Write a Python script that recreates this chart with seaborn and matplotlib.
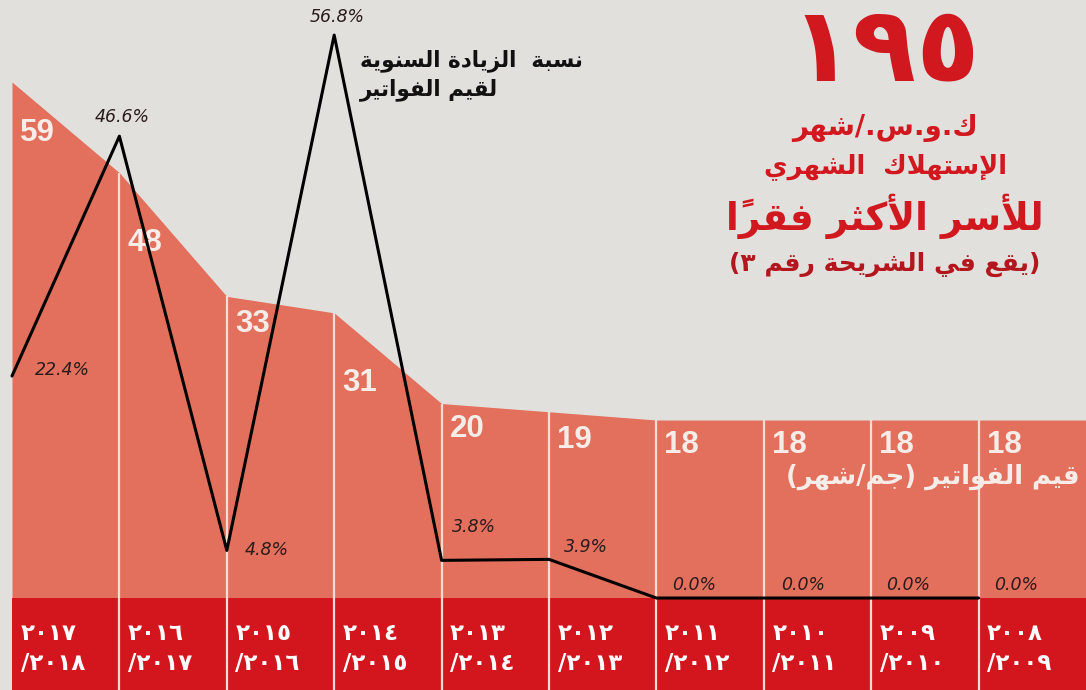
import numpy as np
import pandas as pd
import matplotlib
matplotlib.use("Agg")
import matplotlib.pyplot as plt
import matplotlib.transforms as mtransforms
import seaborn as sns

# ------------------------------------------------------------------ data
period_start = ["٢٠١٧", "٢٠١٦", "٢٠١٥", "٢٠١٤", "٢٠١٣", "٢٠١٢", "٢٠١١", "٢٠١٠", "٢٠٠٩", "٢٠٠٨"]
period_end = ["/٢٠١٨", "/٢٠١٧", "/٢٠١٦", "/٢٠١٥", "/٢٠١٤", "/٢٠١٣", "/٢٠١٢", "/٢٠١١", "/٢٠١٠", "/٢٠٠٩"]
bill_values = [59, 48, 33, 31, 20, 19, 18, 18, 18, 18]          # قيم الفواتير (جم/شهر)
annual_increase = [22.4, 46.6, 4.8, 56.8, 3.8, 3.9, 0.0, 0.0, 0.0, 0.0]  # %
consumption = "١٩٥"
title_lines = ["ك.و.س./شهر", "الإستهلاك  الشهري", "للأسر الأكثر فقرًا", "(يقع في الشريحة رقم ٣)"]
line_caption = ["نسبة  الزيادة السنوية", "لقيم الفواتير"]
area_caption = "قيم الفواتير (جم/شهر)"

# ------------------------------------------------------------------ minimal Arabic shaping (matplotlib has no shaper)
DUAL = {'ب': 0xFE8F, 'ت': 0xFE95, 'ث': 0xFE99, 'ج': 0xFE9D, 'ح': 0xFEA1, 'خ': 0xFEA5,
        'س': 0xFEB1, 'ش': 0xFEB5, 'ص': 0xFEB9, 'ض': 0xFEBD, 'ط': 0xFEC1, 'ظ': 0xFEC5,
        'ع': 0xFEC9, 'غ': 0xFECD, 'ف': 0xFED1, 'ق': 0xFED5, 'ك': 0xFED9, 'ل': 0xFEDD,
        'م': 0xFEE1, 'ن': 0xFEE5, 'ه': 0xFEE9, 'ي': 0xFEF1, 'ئ': 0xFE89}
RIGHT = {'ا': 0xFE8D, 'أ': 0xFE83, 'إ': 0xFE87, 'آ': 0xFE81, 'ة': 0xFE93, 'د': 0xFEA9,
         'ذ': 0xFEAB, 'ر': 0xFEAD, 'ز': 0xFEAF, 'و': 0xFEED, 'ى': 0xFEEF, 'ؤ': 0xFE85}
LAMALEF = {'ا': 0xFEFB, 'أ': 0xFEF7, 'إ': 0xFEF9, 'آ': 0xFEF5}
MIRROR = {'(': ')', ')': '(', '[': ']', ']': '['}


def _is_mark(c):
    return '\u064B' <= c <= '\u0652' or c == '\u0670'


def _is_ltr(c):
    return c.isdigit() or ('a' <= c.lower() <= 'z')


def ar(text):
    chars = list(text)
    n = len(chars)
    shaped = []
    i = 0
    while i < n:
        c = chars[i]
        if _is_mark(c):
            shaped.append(c)
            i += 1
            continue
        j = i - 1
        while j >= 0 and _is_mark(chars[j]):
            j -= 1
        prev = chars[j] if j >= 0 else None
        k = i + 1
        while k < n and _is_mark(chars[k]):
            k += 1
        nxt = chars[k] if k < n else None
        joins = c in DUAL or c in RIGHT
        link_prev = joins and prev in DUAL
        if c == 'ل' and nxt in LAMALEF:
            shaped.append(chr(LAMALEF[nxt] + (1 if link_prev else 0)))
            i = k + 1
            continue
        if c in DUAL:
            link_next = nxt is not None and (nxt in DUAL or nxt in RIGHT)
            off = 3 if (link_prev and link_next) else 1 if link_prev else 2 if link_next else 0
            shaped.append(chr(DUAL[c] + off))
        elif c in RIGHT:
            shaped.append(chr(RIGHT[c] + (1 if link_prev else 0)))
        else:
            shaped.append(c)
        i += 1
    clusters = []
    for c in shaped:
        if _is_mark(c) and clusters:
            clusters[-1] += c
        else:
            clusters.append(c)
    runs = []
    for cl in clusters:
        ltr = _is_ltr(cl[0])
        if runs and ltr and runs[-1][0]:
            runs[-1][1].append(cl)
        else:
            runs.append([ltr, [cl]])
    out = []
    for ltr, cls in reversed(runs):
        if ltr:
            out.extend(cls)
        else:
            out.extend(MIRROR.get(x, x)[::-1] for x in reversed(cls))
    return "".join(out)


# ------------------------------------------------------------------ style
BG = "#e2e0dd"
SALMON = "#e3705d"
BAND = "#d3151e"
SEP = "#f6dcd4"
TITLE_RED = "#d2181f"

sns.set_theme(style="white")
plt.rcParams["font.family"] = ["DejaVu Sans"]

W, H = 1086, 690
fig = plt.figure(figsize=(W / 100, H / 100), dpi=100, facecolor=BG)
ax = fig.add_axes([0, 0, 1, 1], facecolor=BG)
ax2 = ax.twinx()
ax2.set_facecolor("none")

n = len(bill_values)
idx = np.arange(n)
col_px = 107.4
left_px = 12
ax.set_xlim(-left_px / col_px, n)
ax2.set_xlim(-left_px / col_px, n)

area_lim = (-14.75, 68.95)
pct_lim = (-9.28, 60.34)
ax.set_ylim(*area_lim)
ax2.set_ylim(*pct_lim)
band_top_px = 598
band_top = area_lim[1] - band_top_px / H * (area_lim[1] - area_lim[0])

# area (values held flat across the last column)
df_area = pd.DataFrame({"i": np.arange(n + 1), "v": bill_values + [bill_values[-1]]})
ax.fill_between(df_area["i"], band_top, df_area["v"], color=SALMON, lw=0, zorder=1)
# red band with year labels
ax.fill_between([0, n], area_lim[0], band_top, color=BAND, lw=0, zorder=1)
ax.vlines(idx[1:], area_lim[0], np.array(bill_values[1:]), color=SEP, lw=1.6, zorder=2)

# percent line
df_line = pd.DataFrame({"i": idx, "pct": annual_increase})
sns.lineplot(data=df_line, x="i", y="pct", ax=ax2, color="black", lw=2.2, zorder=3)

# value labels
val_drop = [36, 55, 13, 55, 10, 13, 10, 10, 10, 10]
for i, v in enumerate(bill_values):
    ax.annotate(f"{v}", (i, v), xytext=(8, -val_drop[i]), textcoords="offset pixels",
                ha="left", va="top", fontsize=22.5, fontweight="bold",
                family="Liberation Sans", color="#f7ece8", zorder=5)

# percent labels
pct_off = [(23, 6, "left"), (3, 19, "center"), (18, 0, "left"), (3, 18, "center"),
           (10, 33, "left"), (15, 12, "left"), (16, 13, "left"), (17, 13, "left"),
           (15, 13, "left"), (16, 13, "left")]
for i, p in enumerate(annual_increase):
    dx, dy, ha = pct_off[i]
    ax2.annotate(f"{p:.1f}%", (i, p), xytext=(dx, dy), textcoords="offset pixels",
                 ha=ha, va="center", fontsize=12.5, fontstyle="italic",
                 color="#2a1c1c", zorder=6)

# year labels in band
blend = mtransforms.blended_transform_factory(ax.transData, ax.transAxes)
for i in idx:
    ax.text(i + 0.08, 1 - 633 / H, period_start[i], transform=blend, ha="left", va="center",
            fontsize=16.5, fontweight="bold", color="white", zorder=6)
    ax.text(i + 0.08, 1 - 663 / H, period_end[i], transform=blend, ha="left", va="center",
            fontsize=16.5, fontweight="bold", color="white", zorder=6)

# title block
cx = 885 / W
fig.text(cx, 1 - 52 / H, consumption, ha="center", va="center", fontsize=75,
         fontweight="bold", color=TITLE_RED)
fig.text(cx, 1 - 128 / H, ar(title_lines[0]), ha="center", va="center", fontsize=20,
         fontweight="bold", color=TITLE_RED)
fig.text(cx, 1 - 167 / H, ar(title_lines[1]), ha="center", va="center", fontsize=18.5,
         fontweight="bold", color=TITLE_RED)
fig.text(cx, 1 - 216 / H, ar(title_lines[2]), ha="center", va="center", fontsize=27,
         fontweight="bold", color=TITLE_RED)
fig.text(cx, 1 - 264 / H, ar(title_lines[3]), ha="center", va="center", fontsize=18,
         fontweight="bold", color="#b3161c")

# caption for the line
fig.text(360 / W, 1 - 61 / H, ar(line_caption[0]), ha="left", va="center", fontsize=15.5,
         fontweight="bold", color="#111111")
fig.text(360 / W, 1 - 90 / H, ar(line_caption[1]), ha="left", va="center", fontsize=15.5,
         fontweight="bold", color="#111111")
# caption for the area
fig.text(1080 / W, 1 - 477 / H, ar(area_caption), ha="right", va="center", fontsize=18.5,
         fontweight="bold", color="#f7ece8", zorder=6)

for a in (ax, ax2):
    a.set_axis_off()

fig.savefig("out.png", dpi=100, facecolor=BG)
